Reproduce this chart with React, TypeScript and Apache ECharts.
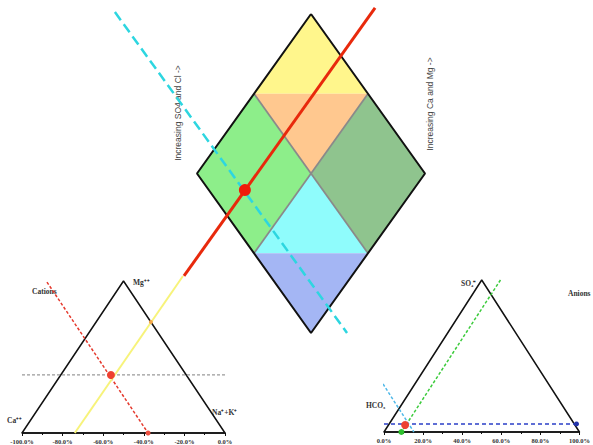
import React, { useEffect, useRef } from "react";
import * as echarts from "echarts";

// ---- data (percent space of each panel) ----
const cationTicks = [-100, -80, -60, -40, -20, 0];
const anionTicks = [0, 20, 40, 60, 80, 100];

const cationTriangle = [[-100, 0], [0, 0], [-50, 100], [-100, 0]];
const anionTriangle = [[0, 0], [100, 0], [50, 100], [0, 0]];
const diamondOutline = [[50, 100], [0, 50], [50, 0], [100, 50], [50, 100]];
const diamondRegions = [
  [[50, 100], [25, 75], [75, 75]],
  [[25, 75], [75, 75], [50, 50]],
  [[0, 50], [25, 75], [50, 50], [25, 25]],
  [[75, 75], [100, 50], [75, 25], [50, 50]],
  [[50, 50], [25, 25], [75, 25]],
  [[25, 25], [75, 25], [50, 0]],
];
const diamondDividers = [
  [[25, 75], [75, 25]],
  [[75, 75], [25, 25]],
];

// sample projections
const diamondSample = [[21, 44.8]];
const diamondProjection = [[78.1, 101.9], [-5.7, 17.9]];
const diamondAnionLine = [[-36, 100.6], [65.8, 0]];

const cationSample = [[-56.2, 38.2]];
const cationLevel = [[-100, 38.2], [0, 38.2]];
const cationCaLine = [[-87.7, 99.3], [-37.9, 0]];
const cationProjection = [[-20.7, 103.3], [-74, 0]];
const cationEdgeHit = [[-36.5, 73]];
const cationBaseHit = [[-37.9, 0]];

const anionSample = [[10.8, 4.6]];
const anionLevel = [[0, 5.3], [100, 5.3]];
const anionSo4Line = [[59.6, 100], [8.9, 0]];
const anionClLine = [[-0.5, 31.6], [15.3, 0]];
const anionGreenHit = [[8.9, 0]];
const anionBlueHit = [[98.5, 5.3]];

// ---- styles ----
const regionColors = ["#FFF68C", "#FFC88F", "#8DEE8A", "#8FC48E", "#8FFCFC", "#A4B6F4"];
const serifBold = { fontFamily: "Liberation Serif", fontWeight: "bold" as const, fontSize: 7.5, fill: "#333" };

function App() {
  const ref = useRef<HTMLDivElement>(null);
  useEffect(() => {
    if (!ref.current) return;
    const chart = echarts.init(ref.current, null, { renderer: "svg" });

    const fmt = (v: number) => v.toFixed(1) + "%";
    const axisCommon = {
      type: "value" as const,
      splitLine: { show: false },
      axisLine: { show: true, lineStyle: { color: "#111", width: 1.5 } },
      axisTick: { show: true, length: 3, lineStyle: { color: "#111" } },
      minorTick: { show: true, splitNumber: 2, length: 2, lineStyle: { color: "#111" } },
      axisLabel: {
        formatter: fmt,
        fontSize: 6.5,
        fontFamily: "Liberation Serif",
        fontWeight: "bold",
        color: "#333",
        margin: 5,
        showMinLabel: true,
        showMaxLabel: true,
      },
    };
    const hiddenY = (i: number, min = 0) => ({ type: "value" as const, gridIndex: i, min, max: 100, show: false });

    const line = (data: number[][], ax: number, color: string, width: number, dash: any, z = 3) => ({
      type: "line",
      xAxisIndex: ax,
      yAxisIndex: ax,
      data,
      symbol: "none",
      clip: false,
      silent: true,
      z,
      lineStyle: { color, width, type: dash },
    });
    const pts = (data: number[][], ax: number, color: string, size: number) => ({
      type: "scatter",
      xAxisIndex: ax,
      yAxisIndex: ax,
      data,
      symbolSize: size,
      clip: false,
      z: 5,
      itemStyle: { color, opacity: 1 },
    });

    // diamond panel: 0..100 spans 228 px; extend to -40 on the left
    const dUnit = 228 / 100;

    chart.setOption({
      animation: false,
      grid: [
        { left: 22, top: 281, width: 203, height: 152 },
        { left: 384, top: 280, width: 203, height: 152 },
        { left: 197 - 40 * dUnit, top: 14, width: 140 * dUnit, height: 319 },
      ],
      xAxis: [
        { ...axisCommon, gridIndex: 0, min: cationTicks[0], max: cationTicks[cationTicks.length - 1], interval: 20 },
        { ...axisCommon, gridIndex: 1, min: anionTicks[0], max: anionTicks[anionTicks.length - 1], interval: 20 },
        { type: "value", gridIndex: 2, min: -40, max: 100, show: false },
      ],
      yAxis: [hiddenY(0), hiddenY(1), hiddenY(2)],
      graphic: [
        { type: "text", left: 32, top: 287, style: { ...serifBold, text: "Cations" } },
        { type: "text", left: 133, top: 278, style: { ...serifBold, text: "Mg⁺⁺" } },
        { type: "text", left: 7, top: 416, style: { ...serifBold, text: "Ca⁺⁺" } },
        { type: "text", left: 212, top: 408, style: { ...serifBold, text: "Na⁺+K⁺" } },
        { type: "text", left: 461, top: 279, style: { ...serifBold, text: "SO₄⁼" } },
        { type: "text", left: 568, top: 289, style: { ...serifBold, text: "Anions" } },
        { type: "text", left: 366, top: 401, style: { ...serifBold, text: "HCO₃" } },
        {
          type: "text",
          x: 178,
          y: 113,
          rotation: Math.PI / 2,
          style: {
            text: "Increasing SO4 and Cl ->",
            fontFamily: "Liberation Sans",
            fontSize: 8.5,
            fill: "#444",
            align: "center",
            verticalAlign: "middle",
          },
        },
        {
          type: "text",
          x: 430,
          y: 104,
          rotation: Math.PI / 2,
          style: {
            text: "Increasing Ca and Mg ->",
            fontFamily: "Liberation Sans",
            fontSize: 8.5,
            fill: "#444",
            align: "center",
            verticalAlign: "middle",
          },
        },
      ],
      series: [
        {
          type: "custom",
          xAxisIndex: 2,
          yAxisIndex: 2,
          silent: true,
          z: 1,
          data: diamondRegions.map((r, i) => [r[0][0], r[0][1], i]),
          renderItem: (params: any, api: any) => {
            const poly = diamondRegions[params.dataIndex];
            return {
              type: "polygon",
              shape: { points: poly.map((p) => api.coord(p)) },
              style: { fill: regionColors[params.dataIndex], stroke: "none" },
            };
          },
        },
        ...diamondDividers.map((d) => line(d, 2, "#8a8a8a", 1.8, "solid", 2)),
        line(diamondOutline, 2, "#111", 2, "solid", 3),
        line(cationTriangle, 0, "#111", 1.5, "solid", 3),
        line(anionTriangle, 1, "#111", 1.5, "solid", 3),

        line(cationLevel, 0, "#9a9a9a", 1.2, [3, 2], 4),
        line(cationCaLine, 0, "#E53A2E", 1.5, [3, 2], 4),
        line(cationProjection, 0, "#F7F37A", 2, "solid", 4),
        line(anionLevel, 1, "#2B3FC8", 1.5, [4, 3], 4),
        line(anionSo4Line, 1, "#3CCB3C", 1.5, [3, 2], 4),
        line(anionClLine, 1, "#4FB8E8", 1.5, [3, 2], 4),
        line(diamondAnionLine, 2, "#2DD6E0", 2.5, [10, 5], 4),
        line(diamondProjection, 2, "#E8290C", 3, "solid", 4),

        pts(diamondSample, 2, "#F01A0A", 12),
        pts(cationSample, 0, "#EE4030", 8),
        pts(cationEdgeHit, 0, "#F4A64A", 4),
        pts(cationBaseHit, 0, "#EE5040", 5),
        pts(anionSample, 1, "#EE4030", 8),
        pts(anionGreenHit, 1, "#2EC02E", 6),
        pts(anionBlueHit, 1, "#2233AA", 5),
      ],
    });
    return () => chart.dispose();
  }, []);

  return (
    <div
      ref={ref}
      style={{ position: "fixed", left: 0, top: 0, width: 593, height: 445, background: "#fff" }}
    />
  );
}

export default App;
